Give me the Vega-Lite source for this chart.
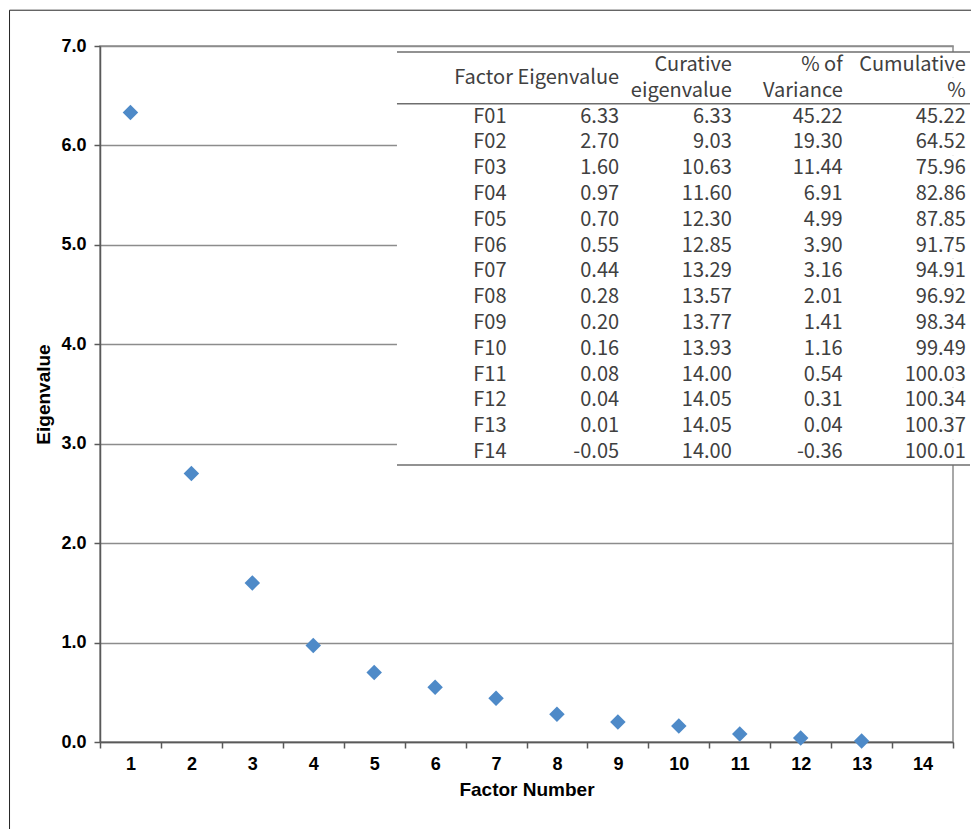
{
  "$schema": "https://vega.github.io/schema/vega-lite/v6.json",
  "width": 853,
  "height": 696,
  "autosize": {"type": "none"},
  "padding": {"left": 100, "top": 46, "right": 18, "bottom": 87},
  "background": "white",
  "config": {
    "view": {"stroke": "#8c8c8c", "strokeWidth": 1.5},
    "text": {"font": "Noto Sans CJK JP", "fontSize": 20, "color": "#404040", "baseline": "middle"}
  },
  "datasets": {
    "scree": [
      {"factor": 1, "eigenvalue": 6.33},
      {"factor": 2, "eigenvalue": 2.70},
      {"factor": 3, "eigenvalue": 1.60},
      {"factor": 4, "eigenvalue": 0.97},
      {"factor": 5, "eigenvalue": 0.70},
      {"factor": 6, "eigenvalue": 0.55},
      {"factor": 7, "eigenvalue": 0.44},
      {"factor": 8, "eigenvalue": 0.28},
      {"factor": 9, "eigenvalue": 0.20},
      {"factor": 10, "eigenvalue": 0.16},
      {"factor": 11, "eigenvalue": 0.08},
      {"factor": 12, "eigenvalue": 0.04},
      {"factor": 13, "eigenvalue": 0.01},
      {"factor": 14, "eigenvalue": -0.05}
    ],
    "table": [
      {"row": "H1", "Factor": "", "Eigenvalue": "", "Curative": "Curative", "Variance": "% of", "Cumulative": "Cumulative"},
      {"row": "H2", "Factor": "", "Eigenvalue": "", "Curative": "eigenvalue", "Variance": "Variance", "Cumulative": "%"},
      {"row": "F01", "Factor": "F01", "Eigenvalue": "6.33", "Curative": "6.33", "Variance": "45.22", "Cumulative": "45.22"},
      {"row": "F02", "Factor": "F02", "Eigenvalue": "2.70", "Curative": "9.03", "Variance": "19.30", "Cumulative": "64.52"},
      {"row": "F03", "Factor": "F03", "Eigenvalue": "1.60", "Curative": "10.63", "Variance": "11.44", "Cumulative": "75.96"},
      {"row": "F04", "Factor": "F04", "Eigenvalue": "0.97", "Curative": "11.60", "Variance": "6.91", "Cumulative": "82.86"},
      {"row": "F05", "Factor": "F05", "Eigenvalue": "0.70", "Curative": "12.30", "Variance": "4.99", "Cumulative": "87.85"},
      {"row": "F06", "Factor": "F06", "Eigenvalue": "0.55", "Curative": "12.85", "Variance": "3.90", "Cumulative": "91.75"},
      {"row": "F07", "Factor": "F07", "Eigenvalue": "0.44", "Curative": "13.29", "Variance": "3.16", "Cumulative": "94.91"},
      {"row": "F08", "Factor": "F08", "Eigenvalue": "0.28", "Curative": "13.57", "Variance": "2.01", "Cumulative": "96.92"},
      {"row": "F09", "Factor": "F09", "Eigenvalue": "0.20", "Curative": "13.77", "Variance": "1.41", "Cumulative": "98.34"},
      {"row": "F10", "Factor": "F10", "Eigenvalue": "0.16", "Curative": "13.93", "Variance": "1.16", "Cumulative": "99.49"},
      {"row": "F11", "Factor": "F11", "Eigenvalue": "0.08", "Curative": "14.00", "Variance": "0.54", "Cumulative": "100.03"},
      {"row": "F12", "Factor": "F12", "Eigenvalue": "0.04", "Curative": "14.05", "Variance": "0.31", "Cumulative": "100.34"},
      {"row": "F13", "Factor": "F13", "Eigenvalue": "0.01", "Curative": "14.05", "Variance": "0.04", "Cumulative": "100.37"},
      {"row": "F14", "Factor": "F14", "Eigenvalue": "-0.05", "Curative": "14.00", "Variance": "-0.36", "Cumulative": "100.01"}
    ],
    "header": [{"row": "H1", "label": "Factor Eigenvalue"}],
    "one": [{"item": "frame"}]
  },
  "layer": [
    {
      "layer": [
        {
          "data": {"name": "one"},
          "mark": {"type": "rect", "fill": "transparent", "stroke": "#262626", "strokeWidth": 1},
          "encoding": {
            "x": {"datum": -0.985},
            "x2": {"datum": 14.95},
            "y": {"datum": 7.36},
            "y2": {"datum": -1.2}
          }
        },
        {
          "data": {"name": "scree"},
          "transform": [{"filter": "datum.eigenvalue >= 0"}],
          "mark": {"type": "point", "shape": "diamond", "filled": true, "size": 240, "color": "#4e8ac8", "opacity": 1},
          "encoding": {
            "x": {
              "field": "factor", "type": "quantitative",
              "scale": {"domain": [0.5, 14.5], "nice": false, "zero": false},
              "axis": {
                "values": [0.5, 1.5, 2.5, 3.5, 4.5, 5.5, 6.5, 7.5, 8.5, 9.5, 10.5, 11.5, 12.5, 13.5, 14.5],
                "labelExpr": "datum.value < 14 ? format(datum.value + 0.5, 'd') : ''",
                "labelOffset": 30.5, "labelFlush": false, "labelOverlap": false,
                "grid": false, "tickSize": 6, "tickColor": "#595959", "tickWidth": 1.5,
                "domainColor": "#595959", "domainWidth": 1.5,
                "labelFont": "Liberation Sans", "labelFontWeight": "bold", "labelFontSize": 18, "labelColor": "#000000", "labelPadding": 7,
                "title": "Factor Number", "titleFont": "Liberation Sans", "titleFontSize": 19, "titleFontWeight": "bold", "titleColor": "#000000", "titlePadding": 7
              }
            },
            "y": {
              "field": "eigenvalue", "type": "quantitative",
              "scale": {"domain": [0, 7], "nice": false, "zero": false},
              "axis": {
                "values": [0, 1, 2, 3, 4, 5, 6, 7], "format": ".1f",
                "labelFlush": false, "labelOverlap": false,
                "grid": true, "gridColor": "#8c8c8c", "gridWidth": 1.5,
                "tickSize": 6, "tickColor": "#595959", "tickWidth": 1.5,
                "domainColor": "#595959", "domainWidth": 1.5,
                "labelFont": "Liberation Sans", "labelFontWeight": "bold", "labelFontSize": 18, "labelColor": "#000000", "labelPadding": 8,
                "title": "Eigenvalue", "titleFont": "Liberation Sans", "titleFontSize": 19, "titleFontWeight": "bold", "titleColor": "#000000", "titlePadding": 7
              }
            }
          }
        }
      ]
    },
    {
      "data": {"name": "table"},
      "layer": [
        {
          "mark": {"type": "rect", "fill": "white", "strokeWidth": 0},
          "encoding": {
            "x": {"datum": 5.374},
            "x2": {"datum": 14.779},
            "y": {"field": "row", "type": "nominal", "axis": null,
                  "scale": {"type": "band", "domain": ["H1", "H2", "F01", "F02", "F03", "F04", "F05", "F06", "F07", "F08", "F09", "F10", "F11", "F12", "F13", "F14"], "range": [6, 419], "paddingInner": 0, "paddingOuter": 0}}
          }
        },
        {
          "data": {"name": "one"},
          "mark": {"type": "rule", "color": "#6e6e6e", "strokeWidth": 1.5},
          "encoding": {
            "x": {"datum": 5.374},
            "x2": {"datum": 14.779},
            "y": {"datum": "H1", "type": "nominal", "bandPosition": 0, "axis": null}
          }
        },
        {
          "data": {"name": "one"},
          "mark": {"type": "rule", "color": "#6e6e6e", "strokeWidth": 1.5},
          "encoding": {
            "x": {"datum": 5.374},
            "x2": {"datum": 14.779},
            "y": {"datum": "F01", "type": "nominal", "bandPosition": 0, "axis": null}
          }
        },
        {
          "data": {"name": "one"},
          "mark": {"type": "rule", "color": "#6e6e6e", "strokeWidth": 1.5},
          "encoding": {
            "x": {"datum": 5.374},
            "x2": {"datum": 14.779},
            "y": {"datum": "F14", "type": "nominal", "bandPosition": 1, "axis": null}
          }
        },
        {
          "mark": {"type": "text", "align": "center"},
          "encoding": {
            "x": {"datum": 6.9},
            "y": {"field": "row", "type": "nominal", "axis": null},
            "text": {"field": "Factor"}
          }
        },
        {
          "mark": {"type": "text", "align": "right"},
          "encoding": {
            "x": {"datum": 9.02},
            "y": {"field": "row", "type": "nominal", "axis": null},
            "text": {"field": "Eigenvalue"}
          }
        },
        {
          "mark": {"type": "text", "align": "right"},
          "encoding": {
            "x": {"datum": 10.87},
            "y": {"field": "row", "type": "nominal", "axis": null},
            "text": {"field": "Curative"}
          }
        },
        {
          "mark": {"type": "text", "align": "right"},
          "encoding": {
            "x": {"datum": 12.69},
            "y": {"field": "row", "type": "nominal", "axis": null},
            "text": {"field": "Variance"}
          }
        },
        {
          "mark": {"type": "text", "align": "right"},
          "encoding": {
            "x": {"datum": 14.71},
            "y": {"field": "row", "type": "nominal", "axis": null},
            "text": {"field": "Cumulative"}
          }
        },
        {
          "data": {"name": "header"},
          "mark": {"type": "text", "align": "right"},
          "encoding": {
            "x": {"datum": 9.02},
            "y": {"field": "row", "type": "nominal", "bandPosition": 1, "axis": null},
            "text": {"field": "label"}
          }
        }
      ]
    }
  ],
  "resolve": {"scale": {"y": "independent"}}
}
